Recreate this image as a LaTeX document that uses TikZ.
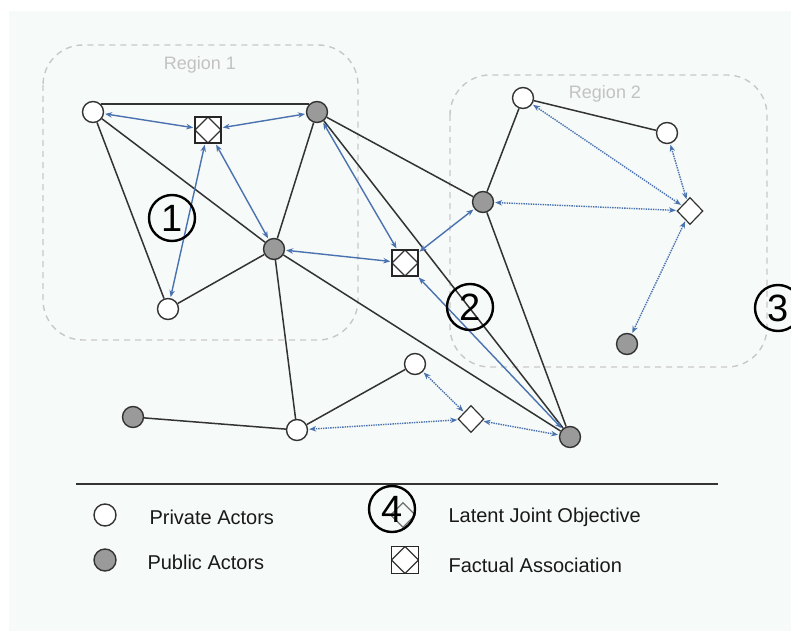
\documentclass[tikz,border=0pt]{standalone}
\usepackage{fontspec}
\setmainfont{Liberation Sans}
\usetikzlibrary{arrows.meta,shapes.geometric}
\definecolor{panel}{HTML}{F6FAF8}
\definecolor{edge}{HTML}{333333}
\definecolor{link}{HTML}{4A72B0}
\definecolor{pubfill}{HTML}{9A9A9A}
\definecolor{regline}{HTML}{C8C8C8}
\definecolor{regtext}{HTML}{C2C2C2}
\tikzset{
  priv/.style={circle, draw=edge, fill=white, line width=1.4pt, minimum size=21pt, inner sep=0pt},
  pub/.style={priv, fill=pubfill},
  obj/.style={diamond, draw=edge, fill=white, line width=1.2pt, minimum width=26pt, minimum height=27pt, inner sep=0pt},
  fact/.style={rectangle, draw=black!85, fill=white, line width=1.5pt, minimum size=26pt, inner sep=0pt,
    path picture={\draw[edge, line width=1.1pt] (path picture bounding box.north) -- (path picture bounding box.east)
      -- (path picture bounding box.south) -- (path picture bounding box.west) -- cycle;}},
  tie/.style={draw=edge, line width=1.5pt},
  known/.style={draw=link, line width=1.4pt, {Stealth[length=7pt,width=5.5pt]}-{Stealth[length=7pt,width=5.5pt]},
    shorten <=1pt, shorten >=1pt},
  latent/.style={known, densely dotted},
  region/.style={draw=regline, dash pattern=on 6pt off 5pt, line width=1.4pt, rounded corners=40pt},
  regname/.style={text=regtext, font=\fontsize{18}{20}\selectfont},
  num/.style={circle, draw=black, line width=2.4pt, minimum size=46pt, inner sep=0pt, font=\fontsize{38}{40}\selectfont},
  legtext/.style={anchor=west, text=black!90, font=\fontsize{20}{24}\selectfont}
}

\begin{document}
\begin{tikzpicture}[x=1pt, y=-1pt]
  \useasboundingbox (0,0) rectangle (791,631);
  \fill[panel] (9,11) rectangle (791,631);

  % regions
  \draw[region] (43,45) rectangle (358,340);
  \draw[region] (450,75) rectangle (767,367);
  \node[regname] (r1) at (200,65) {Region 1};
  \node[regname] (r2) at (605,94) {Region 2};

  % actors
  \node[priv] (p1) at (93,112) {};
  \node[priv] (p2) at (168,309) {};
  \node[priv] (p3) at (523,98) {};
  \node[priv] (p4) at (667,133) {};
  \node[priv] (p5) at (415,364) {};
  \node[priv] (p6) at (297,430) {};
  \node[pub] (g1) at (317,112) {};
  \node[pub] (g2) at (274,249) {};
  \node[pub] (g3) at (483,202) {};
  \node[pub] (g4) at (627,344) {};
  \node[pub] (g5) at (133,417) {};
  \node[pub] (g6) at (570,437) {};

  % associations and objectives
  \node[fact] (f1) at (208,130) {};
  \node[fact] (f2) at (405,263) {};
  \node[obj] (j1) at (690,211) {};
  \node[obj] (j2) at (471,419) {};

  % ties
  \draw[tie] (p1.north east) -- (g1.north west);
  \draw[tie] (p1) -- (p2);
  \draw[tie] (p1) -- (g2);
  \draw[tie] (g1) -- (g2);
  \draw[tie] (g2) -- (p2);
  \draw[tie] (g2) -- (p6);
  \draw[tie] (g2) -- (g6);
  \draw[tie] (g1) -- (g3);
  \draw[tie] (g1) -- (g6);
  \draw[tie] (g3) -- (g6);
  \draw[tie] (p3) -- (g3);
  \draw[tie] (p3) -- (p4);
  \draw[tie] (g5) -- (p6);
  \draw[tie] (p6) -- (p5);

  % factual links
  \draw[known] (p1) -- (f1);
  \draw[known] (g1) -- (f1);
  \draw[known] (p2) -- (f1);
  \draw[known] (g2) -- (f1);
  \draw[known] (g2) -- (f2);
  \draw[known] (g1) -- (f2);
  \draw[known] (g3) -- (f2);
  \draw[known] (g6) -- (f2);

  % latent links
  \draw[latent] (p3) -- (j1);
  \draw[latent] (p4) -- (j1);
  \draw[latent] (g3) -- (j1);
  \draw[latent] (g4) -- (j1);
  \draw[latent] (p5) -- (j2);
  \draw[latent] (p6) -- (j2);
  \draw[latent] (g6) -- (j2);

  % legend
  \draw[edge, line width=1.2pt] (76,484) -- (718,484);
  \node[priv, minimum size=22pt] (lp) at (105,515) {};
  \node[pub, minimum size=22pt] (lg) at (105,560) {};
  \node[legtext] (tp) at (146,517) {Private Actors};
  \node[legtext] (tg) at (144,562) {Public Actors};
  \node[obj, draw=edge!70, fill=none, minimum width=25pt, minimum height=25pt] (lj) at (403,515) {};
  \node[fact, minimum size=27pt] (lf) at (405,560) {};
  \node[legtext] (tj) at (445,517) {Latent Joint Objective};
  \node[legtext] (tf) at (445,565) {Factual Association};

  % markers
  \node[num] (n1) at (172,218) {1};
  \node[num] (n2) at (470,307) {2};
  \node[num] (n3) at (778,308) {3};
  \node[num] (n4) at (392,509) {4};
\end{tikzpicture}
\end{document}
